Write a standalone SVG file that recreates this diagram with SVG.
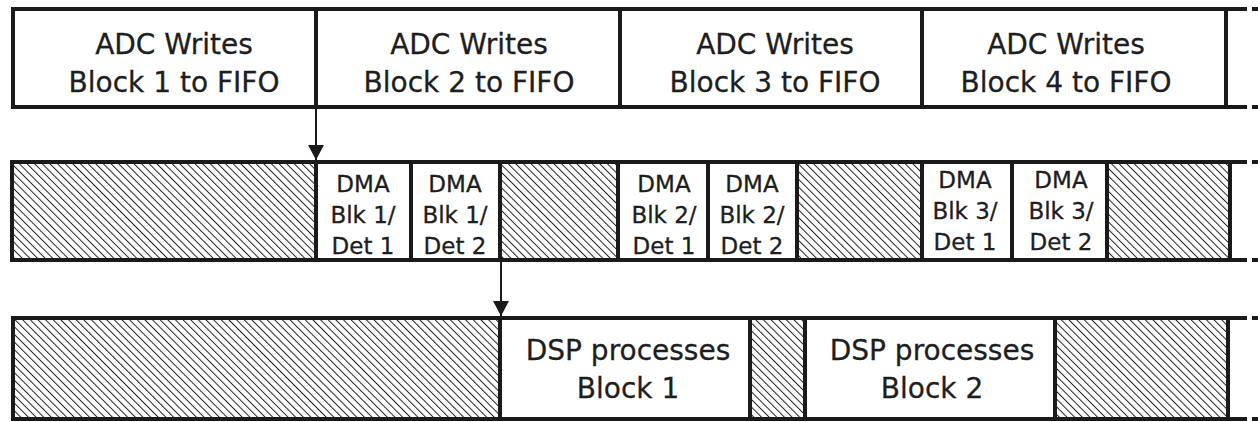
<svg xmlns="http://www.w3.org/2000/svg" width="1258" height="422" viewBox="0 0 1258 422">
<defs>
<pattern id="hatch" patternUnits="userSpaceOnUse" width="5.4" height="5.4" patternTransform="rotate(-45)">
<rect width="5.4" height="5.4" fill="#fff"/>
<line x1="0" y1="0" x2="0" y2="5.4" stroke="#222" stroke-width="2"/>
</pattern>
<marker id="arr" viewBox="0 0 15 16" refX="15" refY="8" markerWidth="15" markerHeight="16" markerUnits="userSpaceOnUse" orient="auto">
<path d="M0,0 L15,8 L0,16 Z" fill="#1a1a1a"/>
</marker>
</defs>
<style>
.c{stroke:#1a1a1a;stroke-width:4;fill:#fff}
.h{stroke:#1a1a1a;stroke-width:4;fill:url(#hatch)}
.rl{stroke:#1a1a1a;stroke-width:4;fill:none}
.t{font-family:"DejaVu Sans","Liberation Sans",sans-serif;fill:#1e1e1e;text-anchor:middle;stroke:#1e1e1e;stroke-width:0.3}
.big{font-size:28px}
.sm{font-size:23px}
.con{stroke:#1a1a1a;stroke-width:2;fill:none}
</style>
<g id="row1-lines">
<path class="rl" d="M1226,9 H1247 M1252,9 H1258 M1226,107 H1247 M1252,107 H1258"/>
</g>
<g id="adc1"><rect class="c" x="13" y="9" width="303" height="98"/><text class="t big" x="174" y="54">ADC Writes</text><text class="t big" x="174" y="92">Block 1 to FIFO</text></g>
<g id="adc2"><rect class="c" x="316" y="9" width="304" height="98"/><text class="t big" x="469" y="54">ADC Writes</text><text class="t big" x="469" y="92">Block 2 to FIFO</text></g>
<g id="adc3"><rect class="c" x="620" y="9" width="302" height="98"/><text class="t big" x="775" y="54">ADC Writes</text><text class="t big" x="775" y="92">Block 3 to FIFO</text></g>
<g id="adc4"><rect class="c" x="922" y="9" width="304" height="98"/><text class="t big" x="1066" y="54">ADC Writes</text><text class="t big" x="1066" y="92">Block 4 to FIFO</text></g>

<g id="row2-lines">
<path class="rl" d="M1230,162 H1247 M1252,162 H1258 M1230,260 H1247 M1252,260 H1258"/>
</g>
<g id="idle2a"><rect class="h" x="12" y="162" width="304" height="98"/></g>
<g id="dma11"><rect class="c" x="316" y="162" width="95" height="98"/><text class="t sm" x="363" y="192">DMA</text><text class="t sm" x="363" y="223">Blk 1/</text><text class="t sm" x="363" y="254">Det 1</text></g>
<g id="dma12"><rect class="c" x="411" y="162" width="89" height="98"/><text class="t sm" x="455" y="192">DMA</text><text class="t sm" x="455" y="223">Blk 1/</text><text class="t sm" x="455" y="254">Det 2</text></g>
<g id="idle2b"><rect class="h" x="500" y="162" width="118" height="98"/></g>
<g id="dma21"><rect class="c" x="618" y="162" width="90" height="98"/><text class="t sm" x="664" y="192">DMA</text><text class="t sm" x="664" y="223">Blk 2/</text><text class="t sm" x="664" y="254">Det 1</text></g>
<g id="dma22"><rect class="c" x="708" y="162" width="89" height="98"/><text class="t sm" x="752" y="192">DMA</text><text class="t sm" x="752" y="223">Blk 2/</text><text class="t sm" x="752" y="254">Det 2</text></g>
<g id="idle2c"><rect class="h" x="797" y="162" width="125" height="98"/></g>
<g id="dma31"><rect class="c" x="922" y="162" width="90" height="98"/><text class="t sm" x="965" y="188">DMA</text><text class="t sm" x="965" y="219">Blk 3/</text><text class="t sm" x="965" y="250">Det 1</text></g>
<g id="dma32"><rect class="c" x="1012" y="162" width="95" height="98"/><text class="t sm" x="1061" y="188">DMA</text><text class="t sm" x="1061" y="219">Blk 3/</text><text class="t sm" x="1061" y="250">Det 2</text></g>
<g id="idle2d"><rect class="h" x="1107" y="162" width="123" height="98"/></g>

<g id="row3-lines">
<path class="rl" d="M1228,318 H1247 M1252,318 H1258 M1228,419 H1247 M1252,419 H1258"/>
</g>
<g id="idle3a"><rect class="h" x="13" y="318" width="487" height="101"/></g>
<g id="dsp1"><rect class="c" x="500" y="318" width="250" height="101"/><text class="t big" x="628" y="360">DSP processes</text><text class="t big" x="628" y="398">Block 1</text></g>
<g id="idle3b"><rect class="h" x="750" y="318" width="55" height="101"/></g>
<g id="dsp2"><rect class="c" x="805" y="318" width="250" height="101"/><text class="t big" x="932" y="360">DSP processes</text><text class="t big" x="932" y="398">Block 2</text></g>
<g id="idle3c"><rect class="h" x="1055" y="318" width="173" height="101"/></g>

<g id="connectors">
<line class="con" x1="316" y1="107" x2="316" y2="160" marker-end="url(#arr)"/>
<line class="con" x1="501" y1="260" x2="501" y2="316" marker-end="url(#arr)"/>
</g>
</svg>
